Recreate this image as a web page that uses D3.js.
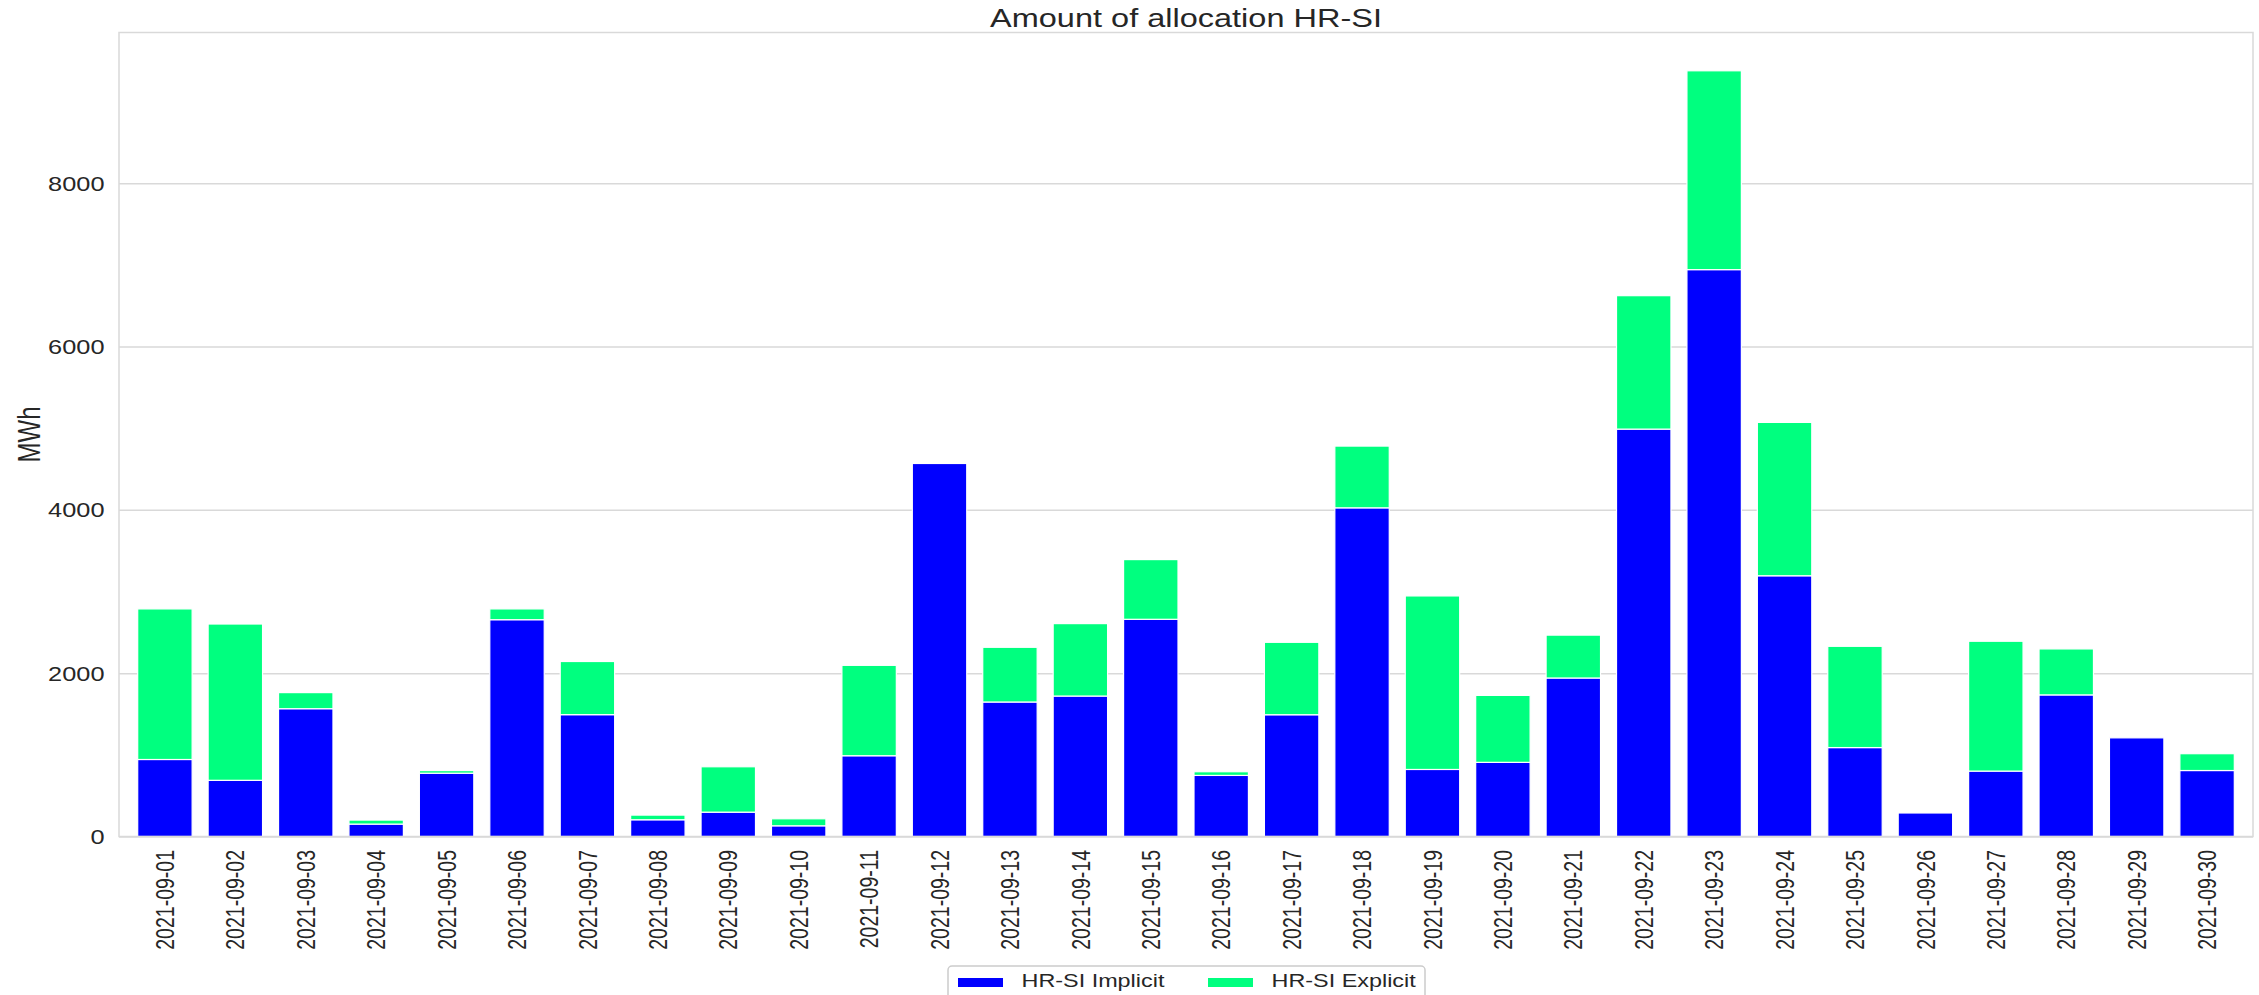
<!DOCTYPE html>
<html><head><meta charset="utf-8">
<script src="https://cdn.jsdelivr.net/npm/d3@7"></script>
<style>
body{margin:0;background:#fff}
svg{display:block}
text{font-family:"Liberation Sans",Arial,Helvetica,sans-serif;fill:#262626}
</style>
</head><body>
<svg id="c" width="2259" height="995"></svg>
<script>
const dates = ["2021-09-01","2021-09-02","2021-09-03","2021-09-04","2021-09-05","2021-09-06","2021-09-07","2021-09-08","2021-09-09","2021-09-10",
  "2021-09-11","2021-09-12","2021-09-13","2021-09-14","2021-09-15","2021-09-16","2021-09-17","2021-09-18","2021-09-19","2021-09-20",
  "2021-09-21","2021-09-22","2021-09-23","2021-09-24","2021-09-25","2021-09-26","2021-09-27","2021-09-28","2021-09-29","2021-09-30"];
const implicitVals = [943,688,1565,152,775,2655,1492,205,298,131,
  989,4568,1647,1720,2660,748,1491,4025,821,908,
  1941,4989,6942,3193,1089,288,801,1734,1208,808];
const explicitVals = [1844,1914,197,49,32,132,651,57,556,86,
  1107,0,670,887,731,45,887,756,2125,820,
  525,1634,2435,1878,1240,0,1590,563,0,206];
const yTickValues = [0,2000,4000,6000,8000];
const seriesKeys = ["implicit","explicit"];
const seriesNames = ["HR-SI Implicit","HR-SI Explicit"];
const seriesColors = ["#0000ff","#00ff7f"];
const titleText = "Amount of allocation HR-SI";
const yLabelText = "MWh";

const SX = 1.3;
const L = 119, R = 2253, T = 32.5, B = 836.5;
const svg = d3.select("#c");

const table = dates.map((d,i)=>({date:d, implicit:implicitVals[i], explicit:explicitVals[i]}));
const stacked = d3.stack().keys(seriesKeys)(table);
const maxTotal = d3.max(table, d => d.implicit + d.explicit);

const x = d3.scaleBand().domain(dates).range([L,R]).paddingInner(0.227).paddingOuter(0.2655);
const y = d3.scaleLinear().domain([0, maxTotal*1.05]).range([B,T]);

// grid + y ticks
svg.append("g")
  .attr("transform",`translate(${L},0)`)
  .call(d3.axisLeft(y).tickValues(yTickValues).tickSizeInner(-(R-L)).tickSizeOuter(0).tickFormat(d3.format("d")))
  .call(g => {
    g.attr("font-family",null).attr("font-size",null);
    g.select(".domain").remove();
    g.selectAll(".tick line").attr("stroke","#d9d9d9").attr("stroke-width",1.5);
    g.selectAll(".tick text")
      .attr("x",null).attr("dy","0.36em")
      .attr("transform",`translate(-14.5,0) scale(${SX},1)`)
      .attr("text-anchor","end")
      .style("font-size","19.5px");
  });

// bars
svg.append("g").selectAll("g").data(stacked).join("g")
  .attr("fill",(d,i)=>seriesColors[i])
  .selectAll("rect").data(d => d.filter(s => s[1]-s[0] > 0)).join("rect")
  .attr("x", d => x(d.data.date))
  .attr("y", d => y(d[1]))
  .attr("width", x.bandwidth())
  .attr("height", d => y(d[0]) - y(d[1]))
  .attr("stroke","#ffffff").attr("stroke-width",1.2);

// spines
svg.append("rect").attr("x",L).attr("y",T).attr("width",R-L).attr("height",B-T)
  .attr("fill","none").attr("stroke","#d9d9d9").attr("stroke-width",1.5);

// x axis labels
svg.append("g")
  .attr("transform",`translate(0,${B})`)
  .call(d3.axisBottom(x).tickSize(0))
  .call(g => {
    g.attr("font-family",null).attr("font-size",null);
    g.select(".domain").remove();
    g.selectAll(".tick text")
      .attr("y",null).attr("x",null).attr("dy","0.36em")
      .attr("text-anchor","end")
      .attr("transform",`translate(0,13.5) scale(${SX},1) rotate(-90)`)
      .style("font-size","19.5px");
  });

// title
svg.append("text")
  .attr("transform",`translate(${(L+R)/2},27) scale(${SX},1)`)
  .attr("text-anchor","middle")
  .style("font-size","25px")
  .text(titleText);

// y label
svg.append("text")
  .attr("transform",`translate(29,${(T+B)/2}) scale(${SX},1) rotate(-90)`)
  .attr("text-anchor","middle").attr("dy","0.36em")
  .style("font-size","24px")
  .text(yLabelText);

// legend
const lg = svg.append("g");
lg.append("rect").attr("x",948).attr("y",966).attr("width",477).attr("height",45).attr("rx",4)
  .attr("fill","#ffffff").attr("stroke","#cccccc").attr("stroke-width",1.5);
const items = lg.selectAll("g.item").data(seriesNames).join("g").attr("class","item")
  .attr("transform",(d,i)=>`translate(${958 + i*250},0)`);
items.append("rect").attr("x",0).attr("y",978).attr("width",45).attr("height",9)
  .attr("fill",(d,i)=>seriesColors[i]);
items.append("text")
  .attr("transform",`translate(63.5,987.3) scale(${SX},1)`)
  .style("font-size","18px")
  .text(d=>d);
</script>
</body></html>
